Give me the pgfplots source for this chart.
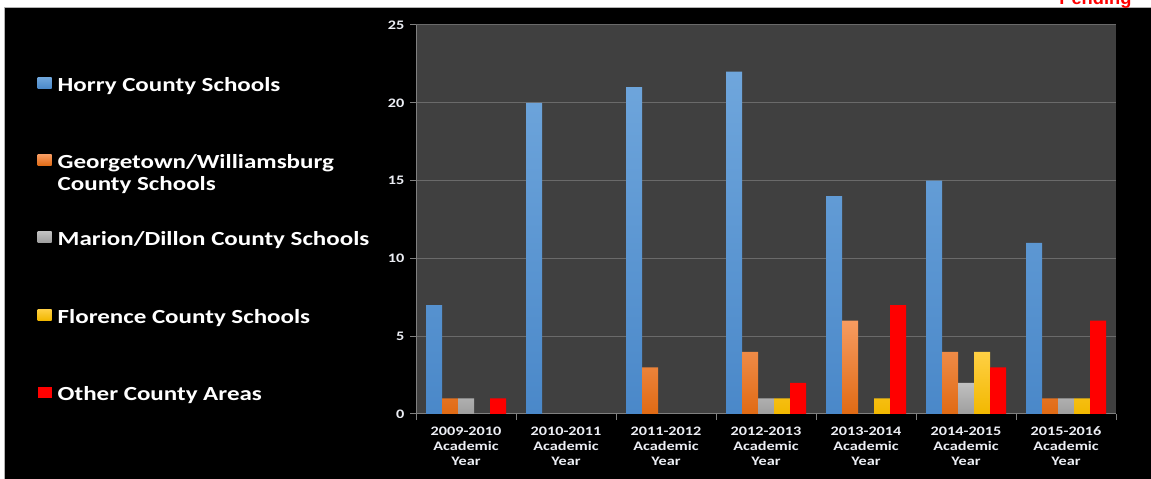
\documentclass[border=0pt]{standalone}
\usepackage{pgfplots}
\pgfplotsset{compat=1.18}
\usepackage{fontspec}
\newfontfamily\chartfont[FakeStretch=1.25]{Carlito}
\newfontfamily\pendfont{Liberation Sans}

\definecolor{plotbg}{HTML}{404040}
\definecolor{gridgray}{HTML}{6A6A6A}
\definecolor{axisgray}{HTML}{808080}
\definecolor{labwhite}{HTML}{ECEEF4}
\definecolor{blueT}{HTML}{6FA6DC}
\definecolor{blueB}{HTML}{4A88C9}
\definecolor{oranT}{HTML}{F79B60}
\definecolor{oranB}{HTML}{E06A14}
\definecolor{grayT}{HTML}{C0C0C0}
\definecolor{grayB}{HTML}{9E9E9E}
\definecolor{yellT}{HTML}{FFD044}
\definecolor{yellB}{HTML}{F2B800}

\begin{document}
\begin{tikzpicture}[x=1pt,y=1pt]
\useasboundingbox (0,0) rectangle (1151,479);
\fill[white] (0,0) rectangle (1151,479);
\fill[black] (5,0) rectangle (1151,471);
\draw[gray!60, line width=0.8pt] (4.6,0) -- (4.6,471.4) -- (1151,471.4);
\node[anchor=base east, text=red, font=\pendfont\bfseries\fontsize{18.3}{18.3}\selectfont] at (1135,474) {Pending};

\begin{axis}[
    at={(416pt,65pt)}, anchor=south west,
    scale only axis, width=700pt, height=389pt,
    xmin=-0.5, xmax=6.5, ymin=0, ymax=25,
    ybar=0pt, bar width=16pt,
    axis background/.style={fill=plotbg},
    axis x line*=bottom, axis y line*=left,
    axis line style={draw=axisgray, line width=1pt},
    ytick={0,5,...,25},
    ymajorgrids, grid style={draw=gridgray, line width=1pt},
    xtick={0,...,6},
    xticklabels={2009-2010\\Academic\\Year, 2010-2011\\Academic\\Year,
        2011-2012\\Academic\\Year, 2012-2013\\Academic\\Year,
        2013-2014\\Academic\\Year, 2014-2015\\Academic\\Year,
        2015-2016\\Academic\\Year},
    major x tick style={draw=none},
    minor xtick={-0.5,0.5,...,6.5},
    tick align=outside, major tick length=6pt, minor tick length=6pt,
    every tick/.style={draw=axisgray, line width=1pt},
    /pgf/number format/assume math mode=true,
    tick label style={text=labwhite, font=\chartfont\bfseries\fontsize{13}{15}\selectfont},
    xticklabel style={align=center, yshift=-3pt},
    yticklabel style={xshift=-2pt},
    legend style={at={(-0.545,0.875)}, anchor=north west, draw=none, fill=none,
        text=white, font=\chartfont\bfseries\fontsize{20}{22}\selectfont,
        row sep=58pt, column sep=4pt},
    legend cell align=left,
    legend image code/.code={\path[#1, draw=none] (0pt,-3pt) rectangle (14pt,8pt);},
]
\addplot[top color=blueT, bottom color=blueB, draw=none]
    coordinates {(0,7) (1,20) (2,21) (3,22) (4,14) (5,15) (6,11)};
\addlegendentry{Horry County Schools}
\addplot[top color=oranT, bottom color=oranB, draw=none]
    coordinates {(0,1) (2,3) (3,4) (4,6) (5,4) (6,1)};
\addlegendentry{\vphantom{Hg}\smash{\vtop{\hbox{Georgetown/Williamsburg}\hbox{County Schools}}}}
\addplot[top color=grayT, bottom color=grayB, draw=none]
    coordinates {(0,1) (3,1) (5,2) (6,1)};
\addlegendentry{Marion/Dillon County Schools}
\addplot[top color=yellT, bottom color=yellB, draw=none]
    coordinates {(3,1) (4,1) (5,4) (6,1)};
\addlegendentry{Florence County Schools}
\addplot[fill=red, draw=none]
    coordinates {(0,1) (3,2) (4,7) (5,3) (6,6)};
\addlegendentry{Other County Areas}
\end{axis}
\end{tikzpicture}
\end{document}
